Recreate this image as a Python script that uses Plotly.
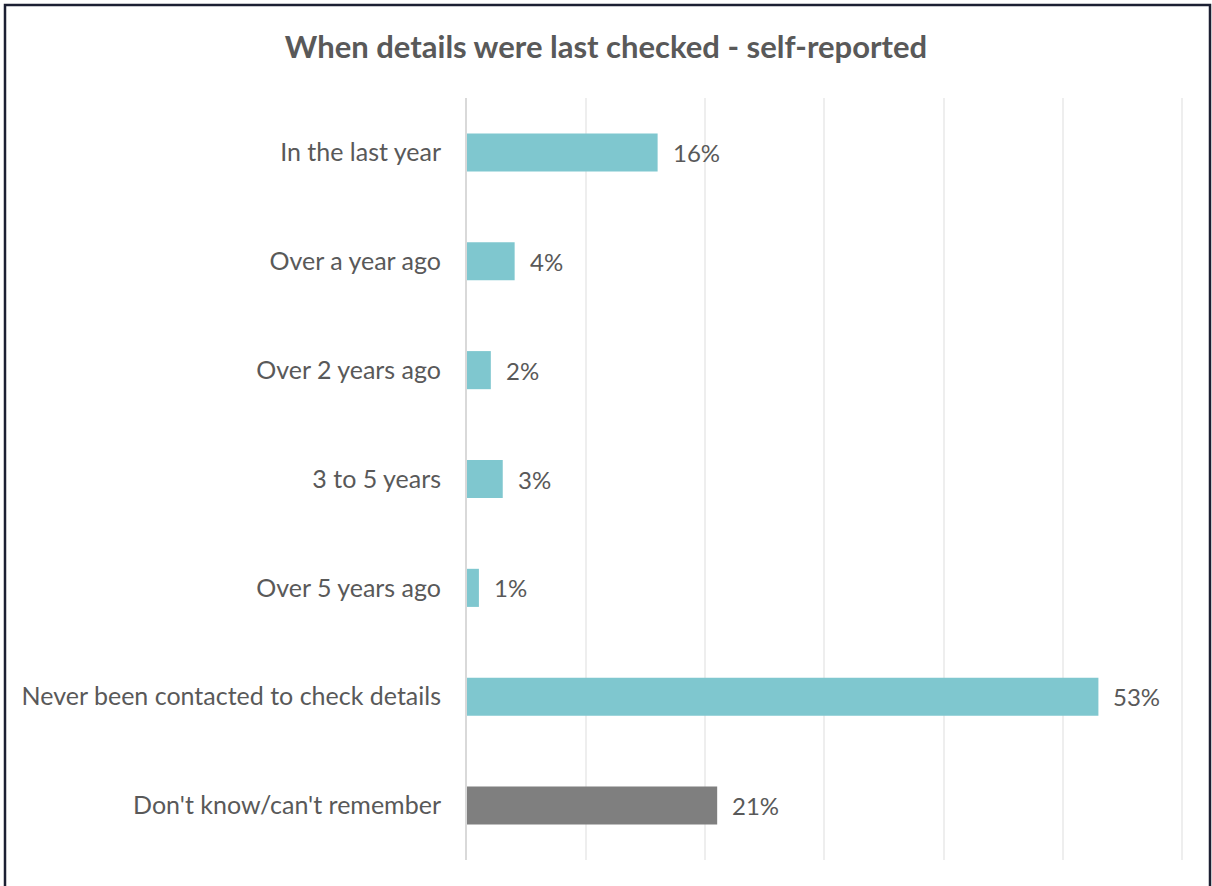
import plotly.graph_objects as go

# Survey responses: when contact details were last checked
categories = [
    "In the last year",
    "Over a year ago",
    "Over 2 years ago",
    "3 to 5 years",
    "Over 5 years ago",
    "Never been contacted to check details",
    "Don't know/can't remember",
]
values = [16, 4, 2, 3, 1, 53, 21]
bar_colors = ["#7FC7CF"] * 6 + ["#7F7F7F"]
x_ticks = [0, 10, 20, 30, 40, 50, 60]

W, H = 1212, 886
L, R, T, B = 467, 29, 98, 26
pw, ph = W - L - R, H - T - B

FONT = "Lato"
TXT = "#595959"

fig = go.Figure(
    go.Bar(
        x=values,
        y=categories,
        orientation="h",
        marker=dict(color=bar_colors, line=dict(width=0)),
        hoverinfo="skip",
    )
)

# value labels to the right of each bar
for cat, v in zip(categories, values):
    fig.add_annotation(
        x=v, y=cat, text=f"{v}%", showarrow=False,
        xanchor="left", yanchor="middle", xshift=13,
        font=dict(family=FONT, size=24, color=TXT),
    )

def px_x(p):
    return (p - L) / pw

def px_y(p):
    return (H - B - p) / ph

# outer frame
fig.add_shape(
    type="rect", xref="paper", yref="paper",
    x0=px_x(5), x1=px_x(1210), y0=px_y(H + 10), y1=px_y(5),
    line=dict(color="#1C2033", width=2.5), fillcolor="rgba(0,0,0,0)",
    layer="above",
)

fig.update_layout(
    width=W, height=H,
    margin=dict(l=L, r=R, t=T, b=B),
    paper_bgcolor="white", plot_bgcolor="white",
    bargap=0.65,
    showlegend=False,
    title=dict(
        text="<b>When details were last checked - self-reported</b>",
        x=0.5, xanchor="center", y=1 - 47 / H, yanchor="middle",
        font=dict(family=FONT, size=31, color=TXT),
    ),
    xaxis=dict(
        range=[0, 60.1], tickvals=x_ticks, showticklabels=False,
        showgrid=True, gridcolor="#EEEEEE", gridwidth=1.5,
        zeroline=False, showline=False, fixedrange=True,
    ),
    yaxis=dict(
        autorange="reversed", showgrid=False, zeroline=False,
        showline=True, linecolor="#D9D9D9", linewidth=2,
        ticks="", ticklabelstandoff=19,
        tickfont=dict(family=FONT, size=25, color=TXT),
        fixedrange=True,
    ),
)

fig.write_html("out.html")
